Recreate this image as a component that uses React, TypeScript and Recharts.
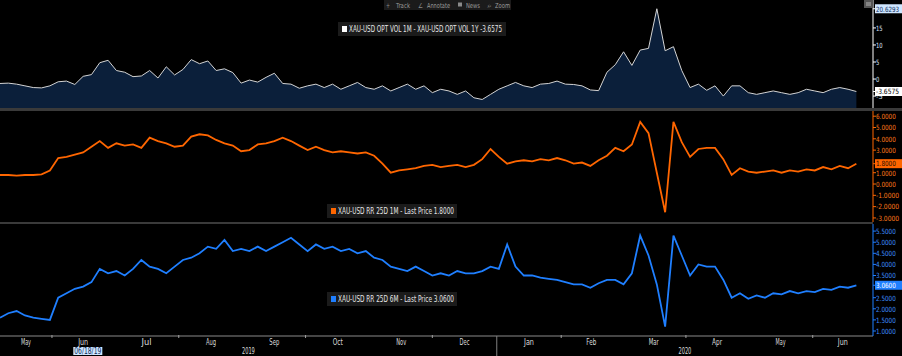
import React from "react";
import { ComposedChart, Area, Line, XAxis, YAxis } from "recharts";

// one point every 4 days, first point = 2019-05-07 (day 0)
const STEP = 4;

// XAU-USD OPT VOL 1M - 1Y spread
const volSpread = [
  -1.3, -1.2, -1.5, -2.0, -2.5, -2.6, -2.0, -0.8, -0.6, -1.6,
  0.8, 1.3, 4.8, 5.5, 2.5, 2.0, 0.7, 0.9, 2.5, 0.3,
  3.6, 1.2, 2.8, 5.7, 4.5, 5.3, 2.5, 3.0, 1.9, -1.2,
  -0.3, -0.9, 0.5, 1.7, -1.3, -1.5, -2.7, -2.0, -1.5, -2.5,
  -1.5, -3.0, -2.0, -1.0, -2.5, -3.0, -2.0, -3.5, -2.5, -1.5,
  -3.0, -2.0, -4.0, -3.0, -3.5, -4.5, -3.5, -5.5, -6.0, -4.5,
  -3.0, -2.0, -1.0, -2.0, -2.5, -1.5, -1.3, -0.6, -1.5, -1.6,
  -2.0, -3.2, -3.4, 2.0, 4.2, 8.0, 4.0, 8.5, 9.0, 20.63,
  8.3, 9.5, 2.5, -2.5, -1.5, -3.3, -2.0, -5.0, -2.0, -2.0,
  -4.0, -4.5, -4.0, -3.5, -4.0, -4.5, -4.0, -3.0, -3.5, -4.0,
  -3.0, -2.5, -3.0, -3.6575,
];

// XAU-USD RR 25D 1M
const rr1m = [
  0.8, 0.8, 0.75, 0.8, 0.8, 0.85, 1.2, 2.3, 2.4, 2.6,
  2.8, 3.3, 3.8, 3.2, 3.6, 3.4, 3.5, 3.2, 4.1, 3.8,
  3.6, 3.3, 3.4, 4.2, 4.4, 4.3, 3.9, 3.6, 3.4, 2.9,
  3.0, 3.5, 3.6, 3.8, 4.1, 3.8, 3.4, 3.0, 3.3, 3.0,
  2.8, 2.9, 2.8, 2.7, 2.8, 2.5, 1.8, 1.0, 1.2, 1.3,
  1.4, 1.6, 1.7, 1.5, 1.6, 1.7, 1.5, 1.7, 2.2, 3.1,
  2.4, 1.8, 2.0, 2.1, 2.0, 2.2, 2.1, 2.3, 2.1, 1.8,
  1.9, 1.6, 2.1, 2.5, 3.2, 2.9, 3.5, 5.5, 4.5, 1.0,
  -2.5, 5.5, 3.7, 2.4, 3.1, 3.2, 3.2, 2.2, 0.8, 1.4,
  1.1, 1.0, 1.1, 1.2, 1.0, 1.2, 1.1, 1.3, 1.2, 1.5,
  1.3, 1.6, 1.4, 1.8,
];

// XAU-USD RR 25D 6M
const rr6m = [
  1.6, 1.8, 1.9, 1.7, 1.6, 1.55, 1.5, 2.5, 2.7, 2.9,
  3.0, 3.2, 3.8, 3.6, 3.7, 3.5, 3.8, 4.2, 3.9, 3.8,
  3.6, 3.9, 4.2, 4.3, 4.5, 4.8, 4.7, 5.1, 4.6, 4.7,
  4.6, 4.8, 4.6, 4.8, 5.0, 5.2, 4.9, 4.6, 4.9, 4.7,
  4.8, 4.6, 4.7, 4.5, 4.6, 4.3, 4.2, 3.9, 3.8, 3.7,
  3.9, 3.7, 3.5, 3.6, 3.5, 3.7, 3.6, 3.6, 3.7, 3.9,
  3.8, 4.9, 3.9, 3.5, 3.5, 3.4, 3.35, 3.3, 3.2, 3.1,
  3.1, 2.95, 3.15, 3.3, 3.3, 3.1, 3.6, 5.3, 4.4, 3.1,
  1.2, 5.3, 4.4, 3.5, 4.0, 3.9, 3.9, 3.3, 2.5, 2.7,
  2.45, 2.6, 2.5, 2.7, 2.65, 2.8, 2.7, 2.8, 2.75, 2.9,
  2.85, 3.0, 2.95, 3.06,
];

const monthNames = ["May", "Jun", "Jul", "Aug", "Sep", "Oct", "Nov", "Dec", "Jan", "Feb", "Mar", "Apr", "May", "Jun"];
// first day of each month, in days from 2019-05-07
const monthStarts = [-6, 25, 55, 86, 117, 147, 178, 208, 239, 270, 299, 330, 360, 391, 421];
const majorTicks = [25, 86, 147, 208, 270, 330, 391];
const years = [
  { label: "2019", from: 0, to: 239 },
  { label: "2020", from: 239, to: 420 },
];
const yearBreak = 239;
const cursorDay = 42;
const cursorLabel = "06/18/19";

const X_MAX = 420;
const FONT = "'DejaVu Sans Condensed', 'Liberation Sans', sans-serif";

const rows = volSpread.map((v, i) => ({ day: i * STEP, vol: v, rr1m: rr1m[i], rr6m: rr6m[i] }));

type Mark = { day: number; kind: string; text?: string };
const axisMarks: Mark[] = [
  ...monthNames.map((m, i) => ({
    day: (Math.max(monthStarts[i], 0) + Math.min(monthStarts[i + 1], X_MAX)) / 2,
    kind: "month",
    text: m,
  })),
  ...majorTicks.map((d) => ({ day: d, kind: "major" })),
  { day: yearBreak, kind: "break" },
  ...years.map((y) => ({ day: (y.from + y.to) / 2, kind: "year", text: y.label })),
  { day: cursorDay, kind: "cursor", text: cursorLabel },
];

// narrow bitmap-like text: squeeze glyphs into a fixed width
function T(p: { x: number; y: number; w: number; size?: number; fill: string; anchor?: "start" | "middle" | "end"; children: string }) {
  return (
    <text
      x={p.x}
      y={p.y}
      fontSize={p.size ?? 8}
      fill={p.fill}
      fontFamily={FONT}
      textAnchor={p.anchor ?? "start"}
      textLength={p.w}
      lengthAdjust="spacingAndGlyphs"
    >
      {p.children}
    </text>
  );
}

function XTick(props: any) {
  const { x, y, payload } = props;
  const m = axisMarks.find((a) => a.day === payload.value);
  if (!m) return null;
  if (m.kind === "month")
    return (
      <T x={x} y={y + 9} w={10} size={8.5} fill="#dcdcdc" anchor="middle">
        {m.text!}
      </T>
    );
  if (m.kind === "year")
    return (
      <T x={x} y={y + 18} w={13} size={8.5} fill="#dcdcdc" anchor="middle">
        {m.text!}
      </T>
    );
  if (m.kind === "major") return <line x1={x} x2={x} y1={y - 1} y2={y + 2} stroke="#a0a0a0" />;
  if (m.kind === "break") return <line x1={x} x2={x} y1={y} y2={y + 22} stroke="#808080" />;
  return (
    <g>
      <rect x={x - 14} y={y + 11} width={29} height={8} fill="#cfe6ff" />
      <T x={x + 0.5} y={y + 17.5} w={27} size={8} fill="#0a2a5a" anchor="middle">
        {m.text!}
      </T>
    </g>
  );
}

type Badge = { bg: string; fg: string; text: string; minY?: number };

const makeYTick = (color: string, digits: number, badges: Record<string, Badge>) => (props: any) => {
  const { x, y, payload } = props;
  const v = payload.value;
  const b = badges[String(v)];
  if (b) {
    const cy = Math.max(y, b.minY ?? -100);
    return (
      <g>
        <rect x={x - 3} y={cy - 4.5} width={902 - x + 3} height={9} fill={b.bg} />
        <T x={x - 2} y={cy + 2.8} w={b.text.length * 3.3} size={7.2} fill={b.fg}>
          {b.text}
        </T>
      </g>
    );
  }
  const s = v.toFixed(digits);
  return (
    <T x={x - 2} y={y + 2.8} w={s.length * 3.3} size={7.2} fill={color}>
      {s}
    </T>
  );
};

const volTick = makeYTick("#dfe6ff", 0, {
  "-3.6575": { bg: "#ffffff", fg: "#000000", text: "-3.6575" },
  "20.6293": { bg: "#cfe6ff", fg: "#0a2a5a", text: "20.6293", minY: 4 },
});
const rr1mTick = makeYTick("#ff7a1a", 4, {
  "1.8": { bg: "#ff6600", fg: "#1a0a00", text: "1.8000" },
});
const rr6mTick = makeYTick("#3d8fff", 4, {
  "3.06": { bg: "#1f7fff", fg: "#ffffff", text: "3.0600" },
});

function LegendBox(p: { x: number; y: number; w: number; color: string; text: string; tw: number }) {
  return (
    <g>
      <rect x={p.x} y={p.y} width={p.w} height={14} fill="#1b1b1b" />
      <rect x={p.x + 4} y={p.y + 4} width={5} height={6} fill={p.color} />
      <T x={p.x + 11} y={p.y + 10} w={p.tw} fill="#e6e6e6">
        {p.text}
      </T>
    </g>
  );
}

const M = { top: 0, right: 0, bottom: 0, left: 0 };

export default function App() {
  return (
    <div
      style={{
        position: "absolute",
        left: 0,
        top: 0,
        width: 902,
        height: 356,
        background: "#000",
        overflow: "hidden",
        fontFamily: FONT,
      }}
    >
      <div style={{ position: "absolute", left: 0, top: 0 }}>
        <ComposedChart width={902} height={108} data={rows} margin={M}>
          <XAxis dataKey="day" type="number" domain={[0, X_MAX]} hide allowDataOverflow />
          <YAxis
            orientation="right"
            width={29}
            domain={[-8.5, 23.2]}
            allowDataOverflow
            ticks={[-5, 0, 5, 10, 15, 20.6293, -3.6575]}
            interval={0}
            axisLine={{ stroke: "#ffffff" }}
            tickLine={{ stroke: "#ffffff" }}
            tickSize={3}
            tickMargin={2}
            tick={volTick}
          />
          <Area
            dataKey="vol"
            type="linear"
            stroke="#d4d4d4"
            strokeWidth={1}
            fill="#0b1f3a"
            fillOpacity={1}
            baseValue={-8.5}
            dot={false}
            activeDot={false}
            isAnimationActive={false}
          />
        </ComposedChart>
      </div>

      <div style={{ position: "absolute", left: 0, top: 108, width: 902, height: 3, background: "#3a3a3a" }} />

      <div style={{ position: "absolute", left: 0, top: 111 }}>
        <ComposedChart width={902} height={111} data={rows} margin={M}>
          <XAxis dataKey="day" type="number" domain={[0, X_MAX]} hide allowDataOverflow />
          <YAxis
            orientation="right"
            width={29}
            domain={[-3.36, 6.46]}
            allowDataOverflow
            ticks={[6, 5, 4, 3, 1, 0, -1, -2, -3, 1.8]}
            interval={0}
            axisLine={{ stroke: "#ff6600" }}
            tickLine={{ stroke: "#ff6600" }}
            tickSize={3}
            tickMargin={2}
            tick={rr1mTick}
          />
          <Line
            dataKey="rr1m"
            type="linear"
            stroke="#ff6600"
            strokeWidth={1.8}
            dot={false}
            activeDot={false}
            isAnimationActive={false}
          />
        </ComposedChart>
      </div>

      <div style={{ position: "absolute", left: 0, top: 222, width: 873, height: 2, background: "#3a3a3a" }} />

      <div style={{ position: "absolute", left: 0, top: 224 }}>
        <ComposedChart width={902} height={132} data={rows} margin={M}>
          <XAxis
            dataKey="day"
            type="number"
            domain={[0, X_MAX]}
            allowDataOverflow
            height={20}
            ticks={axisMarks.map((m) => m.day)}
            interval={0}
            axisLine={{ stroke: "#8a8a8a" }}
            tickLine={false}
            tickSize={0}
            tickMargin={0}
            tick={XTick}
          />
          <YAxis
            orientation="right"
            width={29}
            domain={[0.775, 5.82]}
            allowDataOverflow
            ticks={[5.5, 5, 4.5, 4, 3.5, 2.5, 2, 1.5, 1, 3.06]}
            interval={0}
            axisLine={{ stroke: "#1f7fff" }}
            tickLine={{ stroke: "#1f7fff" }}
            tickSize={3}
            tickMargin={2}
            tick={rr6mTick}
          />
          <Line
            dataKey="rr6m"
            type="linear"
            stroke="#1f7fff"
            strokeWidth={1.8}
            dot={false}
            activeDot={false}
            isAnimationActive={false}
          />
        </ComposedChart>
      </div>

      {/* toolbar, window icon and series legends */}
      <svg width={902} height={356} style={{ position: "absolute", left: 0, top: 0, pointerEvents: "none" }}>
        <rect x={384} y={0} width={127} height={10} fill="#1b1b1b" />
        <T x={386} y={7.5} w={4} size={7} fill="#8a8a8a">+</T>
        <T x={396} y={7.5} w={14} size={7} fill="#9a9a9a">Track</T>
        <T x={418} y={7.5} w={5} size={7} fill="#8a8a8a">∠</T>
        <T x={427} y={7.5} w={23} size={7} fill="#9a9a9a">Annotate</T>
        <rect x={458} y={2.5} width={4} height={4} fill="#8a8a8a" />
        <T x={466} y={7.5} w={14} size={7} fill="#9a9a9a">News</T>
        <T x={487} y={7.5} w={5} size={7} fill="#8a8a8a">⌕</T>
        <T x={495} y={7.5} w={15} size={7} fill="#9a9a9a">Zoom</T>

        <rect x={864} y={0} width={9} height={8} fill="#555" />
        <line x1={866} x2={871} y1={3} y2={3} stroke="#ccc" strokeWidth={0.8} />
        <line x1={866} x2={871} y1={5} y2={5} stroke="#ccc" strokeWidth={0.8} />

        <LegendBox x={338} y={22} w={168} color="#ffffff" tw={153} text="XAU-USD OPT VOL 1M - XAU-USD OPT VOL 1Y -3.6575" />
        <LegendBox x={327} y={204} w={130} color="#ff6600" tw={116} text="XAU-USD RR 25D 1M - Last Price 1.8000" />
        <LegendBox x={327} y={292} w={130} color="#1f7fff" tw={116} text="XAU-USD RR 25D 6M - Last Price 3.0600" />
      </svg>
    </div>
  );
}
